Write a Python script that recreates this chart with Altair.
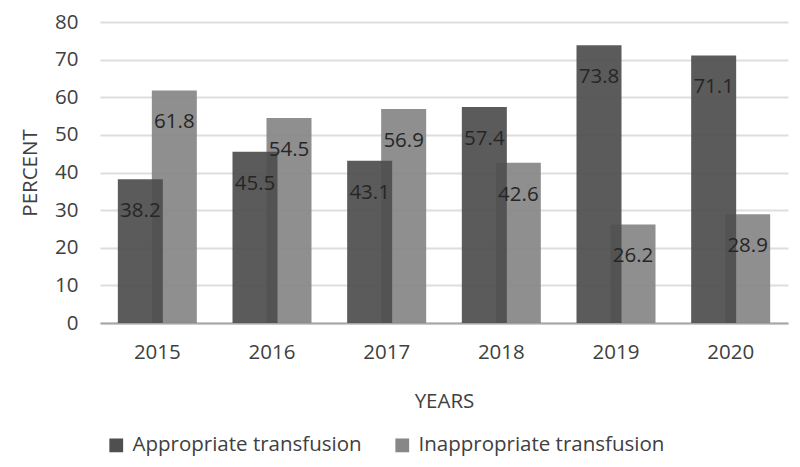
import altair as alt
import pandas as pd

years = ["2015", "2016", "2017", "2018", "2019", "2020"]
appropriate = [38.2, 45.5, 43.1, 57.4, 73.8, 71.1]
inappropriate = [61.8, 54.5, 56.9, 42.6, 26.2, 28.9]
series = ["Appropriate transfusion", "Inappropriate transfusion"]
colors = ["#4f4f4f", "#878787"]
y_ticks = [0, 10, 20, 30, 40, 50, 60, 70, 80]

df = pd.DataFrame({
    "year": years * 2,
    "value": appropriate + inappropriate,
    "series": [series[0]] * len(years) + [series[1]] * len(years),
})

FONT = "Open Sans"
TXT = "#404040"
FS = 20.5

x_enc = alt.X(
    "year:N",
    title="YEARS",
    sort=years,
    scale=alt.Scale(paddingInner=0, paddingOuter=0),
    axis=alt.Axis(labelAngle=0, ticks=False, domain=True, domainColor="#a6a6a6",
                  domainWidth=2, labelPadding=19, titlePadding=29, grid=False),
)
y_enc = alt.Y(
    "value:Q",
    title="PERCENT",
    scale=alt.Scale(domain=[0, 80], nice=False),
    axis=alt.Axis(values=y_ticks, ticks=False, domain=False, gridColor="#dedede",
                  gridWidth=2, labelPadding=22, titlePadding=14),
)
color_enc = alt.Color(
    "series:N",
    scale=alt.Scale(domain=series, range=colors),
    legend=alt.Legend(title=None, orient="none", legendX=6, legendY=413,
                      direction="horizontal", columns=2, symbolType="square",
                      symbolSize=190, symbolStrokeWidth=0, symbolOpacity=1,
                      labelFontSize=FS, labelFont=FONT, labelColor=TXT,
                      labelLimit=0, columnPadding=30, labelOffset=6),
)

base = alt.Chart(df)

light = base.transform_filter(alt.datum.series == series[1]).mark_bar(
    size=45, xOffset=17, opacity=0.93
).encode(x=x_enc, y=y_enc, color=color_enc)

dark = base.transform_filter(alt.datum.series == series[0]).mark_bar(
    size=45, xOffset=-17, opacity=0.93
).encode(x=x_enc, y=y_enc, color=color_enc)

light_txt = base.transform_filter(alt.datum.series == series[1]).mark_text(
    xOffset=17, dy=32, fontSize=20.5, font=FONT, color="#262626", baseline="middle"
).encode(x=x_enc, y=y_enc, text=alt.Text("value:Q", format=".1f"))

dark_txt = base.transform_filter(alt.datum.series == series[0]).mark_text(
    xOffset=-17, dy=32, fontSize=20.5, font=FONT, color="#262626", baseline="middle"
).encode(x=x_enc, y=y_enc, text=alt.Text("value:Q", format=".1f"))

chart = alt.layer(light, dark, light_txt, dark_txt).properties(
    width=688, height=301,
    autosize=alt.AutoSizeParams(type="none"),
    padding={"left": 92, "top": 14, "right": 4, "bottom": 134},
).configure_view(stroke=None).configure_axis(
    labelFont=FONT, titleFont=FONT, labelFontSize=FS, titleFontSize=FS,
    labelColor=TXT, titleColor=TXT, titleFontWeight="normal",
)

chart.save("out.html", embed_options={"renderer": "svg", "actions": False})
